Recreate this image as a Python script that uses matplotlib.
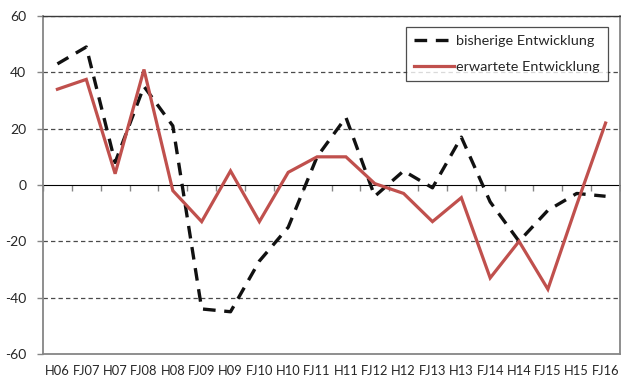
import matplotlib
matplotlib.use("Agg")
import matplotlib.pyplot as plt
import numpy as np

plt.rcParams['font.family'] = ['Lato', 'DejaVu Sans']

# Half-year / fiscal-year periods
periods = ["H06", "FJ07", "H07", "FJ08", "H08", "FJ09", "H09", "FJ10", "H10", "FJ11",
           "H11", "FJ12", "H12", "FJ13", "H13", "FJ14", "H14", "FJ15", "H15", "FJ16"]

# Balance values per period
bisherige = [43, 49, 8, 35, 21, -44, -45, -27, -15, 10,
             24, -4, 5, -1, 17, -6, -20, -9, -3, -4]
erwartete = [34, 37.5, 4, 41, -2, -13, 5, -13, 4.5, 10,
             10, 0.5, -3, -13, -4.5, -33, -20, -37, -7, 22]

y_ticks = [-60, -40, -20, 0, 20, 40, 60]

fig = plt.figure(figsize=(6.21, 3.81), dpi=100)
ax = fig.add_axes([43 / 621, 1 - 354 / 381, 577 / 621, 338 / 381])

x = np.arange(len(periods))
text_color = "#262626"
axis_gray = "#868686"

ax.set_xlim(-0.5, len(periods) - 0.5)
ax.set_ylim(-60, 60)

# dashed horizontal gridlines
for v in y_ticks:
    if v not in (0, -60):
        ax.axhline(v, color="#4a4a4a", lw=0.9, ls=(0, (3.5, 2.5)), zorder=1)

# zero line acts as the category axis with tick marks between categories
zero_axis = ax.secondary_xaxis((0 - (-60)) / 120)
zero_axis.set_xticks(np.arange(len(periods) + 1) - 0.5)
zero_axis.tick_params(axis='x', direction='out', length=4, width=1.0,
                      color=axis_gray, labelbottom=False, labeltop=False,
                      bottom=True, top=False)
zero_axis.spines['bottom'].set_color(axis_gray)
zero_axis.spines['bottom'].set_linewidth(1.3)

ax.plot(x, bisherige, color="#111111", lw=2.4, ls=(0, (3.8, 2.6)),
        dash_capstyle='butt', label="bisherige Entwicklung", zorder=3)
ax.plot(x, erwartete, color="#C0504D", lw=2.3, solid_joinstyle='miter',
        label="erwartete Entwicklung", zorder=4)

ax.set_xticks(x)
ax.set_xticklabels(periods, fontsize=9.3, color=text_color)
ax.tick_params(axis='x', length=0, pad=8)

ax.set_yticks(y_ticks)
ax.set_yticklabels([str(v) for v in y_ticks], fontsize=10, color=text_color)
ax.tick_params(axis='y', direction='out', length=4, width=1.0, color=axis_gray, pad=8)

for side in ("left", "bottom", "right"):
    ax.spines[side].set_color(axis_gray)
    ax.spines[side].set_linewidth(1.3)
ax.spines['top'].set_color("#3a3a3a")
ax.spines['top'].set_linewidth(1.0)

leg = ax.legend(loc='upper right', bbox_to_anchor=(0.979, 0.967), fontsize=10.4,
                frameon=True, fancybox=False, handlelength=2.8, handletextpad=0.15,
                borderpad=0.55, labelspacing=0.95, borderaxespad=0)
leg.get_frame().set_edgecolor("#222222")
leg.get_frame().set_linewidth(0.9)
for t in leg.get_texts():
    t.set_color(text_color)

fig.savefig("out.png", dpi=100)
